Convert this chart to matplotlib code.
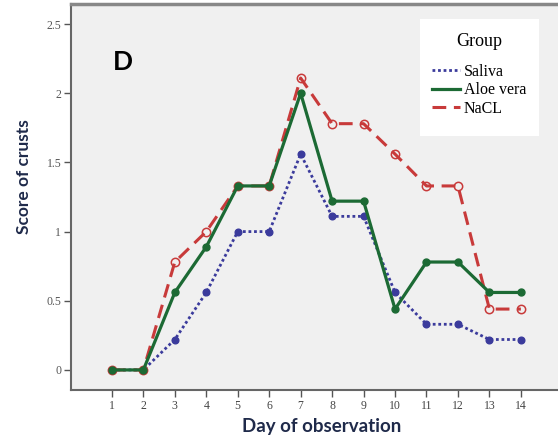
from matplotlib import pyplot as plt
from matplotlib.patches import Rectangle

days = list( range( 1, 15 ) )
saliva = [ 0, 0, 0.22, 0.56, 1.0, 1.0, 1.56, 1.11, 1.11, 0.56, 0.33, 0.33, 0.22, 0.22 ]
aloeVera = [ 0, 0, 0.56, 0.89, 1.33, 1.33, 2.0, 1.22, 1.22, 0.44, 0.78, 0.78, 0.56, 0.56 ]
nacl = [ 0, 0, 0.78, 1.0, 1.33, 1.33, 2.11, 1.78, 1.78, 1.56, 1.33, 1.33, 0.44, 0.44 ]
yTicks = [ 0, 0.5, 1, 1.5, 2, 2.5 ]
yTickLabels = [ '0', '0.5', '1', '1.5', '2', '2.5' ]
groupNames = [ 'Saliva', 'Aloe vera', 'NaCL' ]

figure = plt.figure( figsize = ( 5.58, 4.38 ), dpi = 100 )
axes = figure.add_axes( [ 71 / 558, 48 / 438, 487 / 558, 386 / 438 ] )
axes.set_facecolor( '#f0f0f0' )

blue = '#3b3b9c'
green = '#1c6a34'
red = '#c83a3a'

salivaLine, = axes.plot( days, saliva, linestyle = ( 0, ( 1, 1 ) ), color = blue, linewidth = 2.0,
                         marker = 'o', markersize = 4.8, markerfacecolor = blue, markeredgecolor = blue, zorder = 3 )
naclLine, = axes.plot( days, nacl, linestyle = ( 0, ( 4.5, 2.5 ) ), color = red, linewidth = 2.2,
                       marker = 'o', markersize = 6, markerfacecolor = 'none', markeredgecolor = red,
                       markeredgewidth = 1.1, zorder = 4 )
aloeLine, = axes.plot( days, aloeVera, linestyle = '-', color = green, linewidth = 2.3,
                       marker = 'o', markersize = 5, markerfacecolor = green, markeredgecolor = green, zorder = 5 )

axes.set_xlim( -0.3, 15.18 )
axes.set_ylim( -0.145, 2.645 )
axes.set_xticks( days )
axes.set_xticklabels( [ str( d ) for d in days ], family = 'Liberation Serif', fontsize = 8.5, color = '#444444' )
axes.set_yticks( yTicks )
axes.set_yticklabels( yTickLabels, family = 'Liberation Serif', fontsize = 8.5, color = '#555555' )
axes.tick_params( direction = 'out', length = 5, width = 1, color = '#555555', pad = 2 )

for side in [ 'left', 'bottom' ]:
    axes.spines[ side ].set_color( '#666666' )
    axes.spines[ side ].set_linewidth( 1.5 )
axes.spines[ 'top' ].set_color( '#888888' )
axes.spines[ 'top' ].set_linewidth( 2.5 )
axes.spines[ 'right' ].set_visible( False )

axes.set_xlabel( 'Day of observation', family = 'Lato', fontweight = 'bold', fontsize = 13.5, color = '#1f2a4a' )
axes.set_ylabel( 'Score of crusts', family = 'Lato', fontweight = 'bold', fontsize = 12.5, color = '#1f2a4a' )
axes.xaxis.set_label_coords( 0.515, -0.072 )
axes.yaxis.set_label_coords( -0.08, 0.552 )

axes.text( 0.107, 0.85, 'D', transform = axes.transAxes, family = 'Lato', fontweight = 'bold',
           fontsize = 19, color = 'black', ha = 'center', va = 'center' )

axes.add_patch( Rectangle( ( 0.717, 0.658 ), 0.244, 0.303, transform = axes.transAxes,
                           facecolor = 'white', edgecolor = 'none', zorder = 6 ) )
legend = axes.legend( [ salivaLine, aloeLine, naclLine ], groupNames,
                      title = 'Group\n', loc = 'upper left', bbox_to_anchor = ( 0.741, 0.926 ),
                      prop = { 'family': 'Liberation Serif', 'size': 11.5 }, frameon = False,
                      handlelength = 1.75, handletextpad = 0.25, labelspacing = 0.15,
                      borderpad = 0, borderaxespad = 0 )
legend.set_zorder( 7 )
legend.get_title().set_family( 'Liberation Serif' )
legend.get_title().set_fontsize( 13 )
legend.get_title().set_linespacing( 0.6 )
for handle in legend.legend_handles:
    handle.set_marker( '' )

figure.savefig( 'out.png' )
